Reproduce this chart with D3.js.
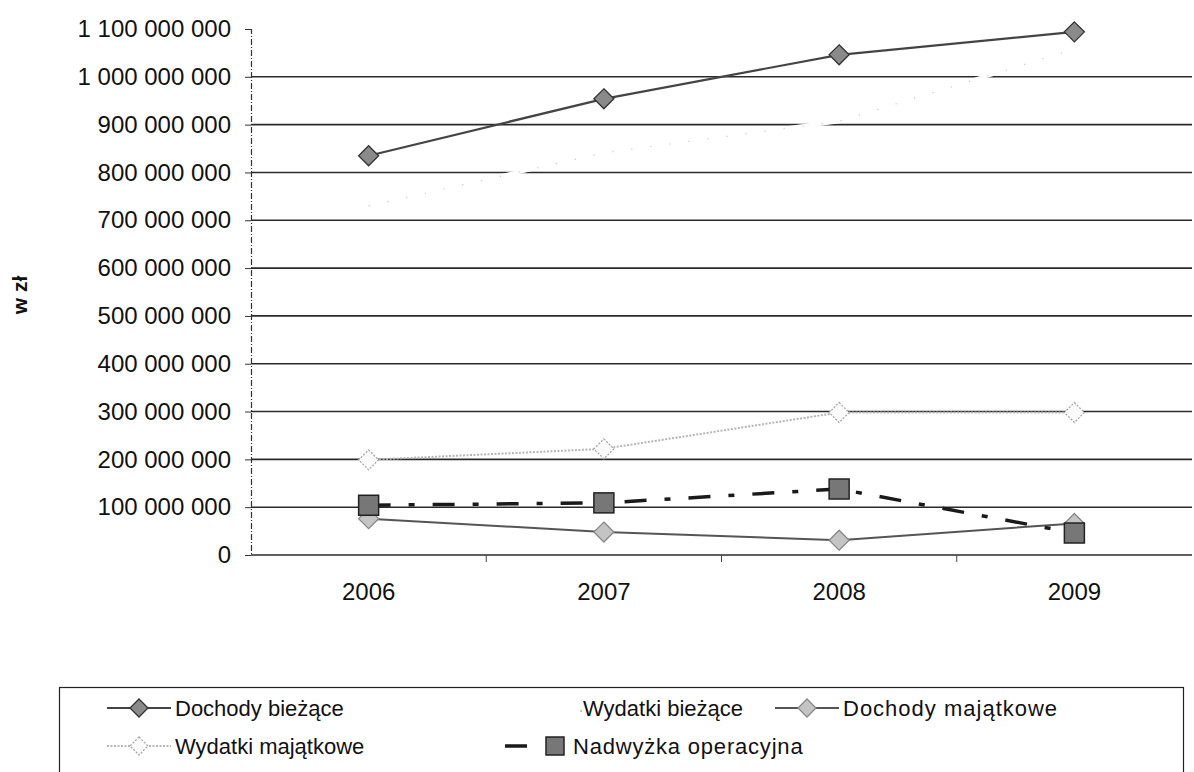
<!DOCTYPE html>
<html lang="pl">
<head>
<meta charset="UTF-8">
<title>Dochody i wydatki</title>
<script src="https://d3js.org/d3.v7.min.js"></script>
<style>
  body { margin: 0; background: #fff; }
  text { font-family: "Liberation Sans", Arial, sans-serif; fill: #111; }
</style>
</head>
<body>
<div id="chart"></div>
<script>
// data (zł)
const years = ['2006', '2007', '2008', '2009'];
const dochodyBiezace = [835000000, 954000000, 1046000000, 1094000000];
const wydatkiBiezace = [730000000, 841000000, 907000000, 1058000000];
const dochodyMajatkowe = [76000000, 48000000, 31000000, 66000000];
const wydatkiMajatkowe = [199000000, 222000000, 298000000, 298000000];
const nadwyzka = [104000000, 109000000, 138000000, 46000000];
const yTicks = [0, 100e6, 200e6, 300e6, 400e6, 500e6, 600e6, 700e6, 800e6, 900e6, 1000e6, 1100e6];

const W = 1194, H = 772;
const svg = d3.select('#chart').append('svg')
    .attr('width', W)
    .attr('height', H);

const x = d3.scaleBand().domain(years).range([251, 1192]);
const y = d3.scaleLinear().domain([0, 1100e6]).range([555, 29]);
const cx = d => x(d) + x.bandwidth() / 2;

// gridlines (no line at the top tick)
svg.append('g')
    .selectAll('line')
    .data(yTicks.filter(v => v <= 1000e6))
    .enter()
    .append('line')
    .attr('x1', 251).attr('x2', 1192)
    .attr('y1', d => y(d)).attr('y2', d => y(d))
    .attr('stroke', '#2a2a2a')
    .attr('stroke-width', 1.6);

// y axis
const fmt = v => d3.format(',')(v).replace(/,/g, ' ');
const yAxis = svg.append('g')
    .attr('transform', 'translate(251,0)')
    .call(d3.axisLeft(y).tickValues(yTicks).tickFormat(fmt).tickSize(6).tickPadding(14));
yAxis.select('.domain').attr('stroke', '#333').attr('stroke-width', 1.2).attr('stroke-dasharray', '6,2,1,2');
yAxis.selectAll('.tick line').attr('stroke', '#333');
yAxis.selectAll('text')
    .attr('font-size', 24)
    .attr('font-family', '"Liberation Sans", Arial, sans-serif')
    .attr('fill', '#111');

// x axis
const xAxis = svg.append('g')
    .attr('transform', 'translate(0,555)')
    .call(d3.axisBottom(x).tickSize(0).tickPadding(28));
xAxis.select('.domain').remove();
xAxis.selectAll('text')
    .attr('font-size', 24)
    .attr('font-family', '"Liberation Sans", Arial, sans-serif')
    .attr('fill', '#111');
// category separators
svg.append('g')
    .selectAll('line')
    .data(years.slice(1))
    .enter()
    .append('line')
    .attr('x1', d => x(d)).attr('x2', d => x(d))
    .attr('y1', 555).attr('y2', 562)
    .attr('stroke', '#444');

// y title
svg.append('text')
    .attr('transform', 'translate(27,295) rotate(-90)')
    .attr('text-anchor', 'middle')
    .attr('font-size', 21)
    .attr('font-weight', 'bold')
    .text('w zł');

const line = d3.line().x((d, i) => cx(years[i])).y(d => y(d));

function diamond(g, px, py, r, fill, stroke, dash) {
    g.append('path')
        .attr('d', `M${px},${py - r}L${px + r},${py}L${px},${py + r}L${px - r},${py}Z`)
        .attr('fill', fill)
        .attr('stroke', stroke)
        .attr('stroke-width', 1.3)
        .attr('stroke-dasharray', dash || null);
}
function square(g, px, py, r, fill, stroke) {
    g.append('rect')
        .attr('x', px - r).attr('y', py - r)
        .attr('width', 2 * r).attr('height', 2 * r)
        .attr('fill', fill)
        .attr('stroke', stroke)
        .attr('stroke-width', 1.5);
}

const plot = svg.append('g');

// Wydatki bieżące: white line that cuts the gridlines, faint dots on it
plot.append('path').datum(wydatkiBiezace)
    .attr('d', line).attr('fill', 'none')
    .attr('stroke', '#fff').attr('stroke-width', 4);
plot.append('path').datum(wydatkiBiezace)
    .attr('d', line).attr('fill', 'none')
    .attr('stroke', '#c4c4c4').attr('stroke-width', 1.2)
    .attr('stroke-dasharray', '1.2,18');

// Wydatki majątkowe
plot.append('path').datum(wydatkiMajatkowe)
    .attr('d', line).attr('fill', 'none')
    .attr('stroke', '#b5b5b5').attr('stroke-width', 2)
    .attr('stroke-dasharray', '2,1.5');
wydatkiMajatkowe.forEach((v, i) => diamond(plot, cx(years[i]), y(v), 10, '#fafafa', '#aaa', '2,1.5'));

// Dochody majątkowe
plot.append('path').datum(dochodyMajatkowe)
    .attr('d', line).attr('fill', 'none')
    .attr('stroke', '#555').attr('stroke-width', 2);
dochodyMajatkowe.forEach((v, i) => diamond(plot, cx(years[i]), y(v), 10, '#c4c4c4', '#888'));

// Nadwyżka operacyjna
plot.append('path').datum(nadwyzka)
    .attr('d', line).attr('fill', 'none')
    .attr('stroke', '#1a1a1a').attr('stroke-width', 3.5)
    .attr('stroke-dasharray', '22,18,6,18');
nadwyzka.forEach((v, i) => square(plot, cx(years[i]), y(v), 10, '#777', '#222'));

// Dochody bieżące
plot.append('path').datum(dochodyBiezace)
    .attr('d', line).attr('fill', 'none')
    .attr('stroke', '#444').attr('stroke-width', 2.2);
dochodyBiezace.forEach((v, i) => diamond(plot, cx(years[i]), y(v), 10, '#8a8a8a', '#333'));

// legend
const leg = svg.append('g');
leg.append('rect')
    .attr('x', 59.5).attr('y', 687.5)
    .attr('width', 1124).attr('height', 100)
    .attr('fill', 'none')
    .attr('stroke', '#222')
    .attr('stroke-width', 1.2);

const legendItems = [
    { name: 'Dochody bieżące', x: 107, y: 708, kind: 'db', ls: 0 },
    { name: 'Wydatki bieżące', x: 515, y: 708, kind: 'wb', ls: 0 },
    { name: 'Dochody majątkowe', x: 775, y: 708, kind: 'dm', ls: 1 },
    { name: 'Wydatki majątkowe', x: 107, y: 746, kind: 'wm', ls: 0 },
    { name: 'Nadwyżka operacyjna', x: 505, y: 746, kind: 'nd', ls: 0.8 }
];
legendItems.forEach(it => {
    const g = leg.append('g');
    const x0 = it.x, x1 = it.x + 64, mx = it.x + 32;
    if (it.kind === 'db') {
        g.append('line').attr('x1', x0).attr('x2', x1).attr('y1', it.y).attr('y2', it.y)
            .attr('stroke', '#444').attr('stroke-width', 2);
        diamond(g, mx, it.y, 9, '#8a8a8a', '#333');
    } else if (it.kind === 'wb') {
        g.append('circle').attr('cx', x1 + 2).attr('cy', it.y + 3).attr('r', 0.8).attr('fill', '#777');
    } else if (it.kind === 'dm') {
        g.append('line').attr('x1', x0).attr('x2', x1).attr('y1', it.y).attr('y2', it.y)
            .attr('stroke', '#555').attr('stroke-width', 2);
        diamond(g, mx, it.y, 9, '#c4c4c4', '#888');
    } else if (it.kind === 'wm') {
        g.append('line').attr('x1', x0).attr('x2', x1).attr('y1', it.y).attr('y2', it.y)
            .attr('stroke', '#b5b5b5').attr('stroke-width', 2).attr('stroke-dasharray', '2,1.5');
        diamond(g, mx, it.y, 9, '#fafafa', '#aaa', '2,1.5');
    } else {
        g.append('line').attr('x1', x0).attr('x2', x1).attr('y1', it.y).attr('y2', it.y)
            .attr('stroke', '#1a1a1a').attr('stroke-width', 3.5).attr('stroke-dasharray', '22,20,6,20');
        square(g, x0 + 50, it.y, 9, '#777', '#222');
    }
    g.append('text')
        .attr('x', x1 + 4)
        .attr('y', it.y)
        .attr('dy', '0.35em')
        .attr('font-size', 22)
        .attr('letter-spacing', it.ls)
        .text(it.name);
});
</script>
</body>
</html>
